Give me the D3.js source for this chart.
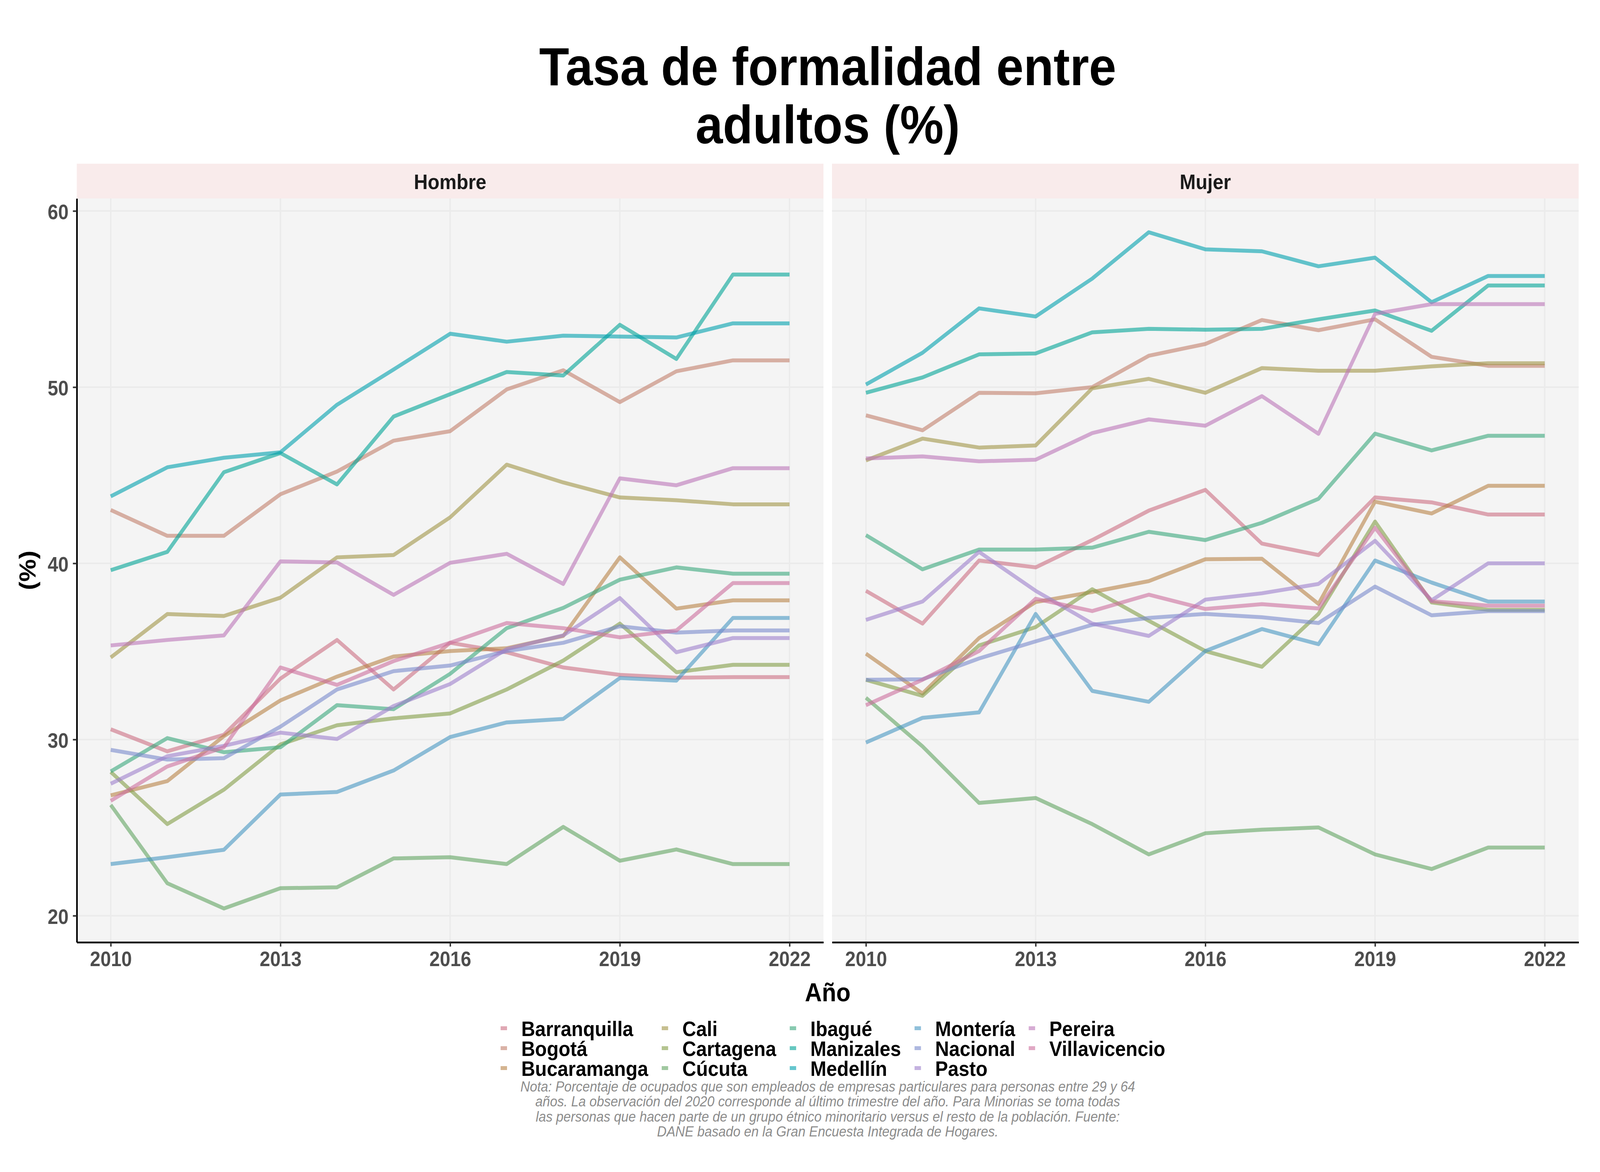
<!DOCTYPE html>
<html>
<head>
<meta charset="utf-8">
<script src="https://cdn.jsdelivr.net/npm/d3@7"></script>
<style>
  html, body { margin: 0; padding: 0; background: #fff; overflow: hidden; }
  .Graph svg { display: block; width: 100vw; height: 100vh; }
  text { font-family: "Liberation Sans", Arial, Helvetica, sans-serif; }
</style>
</head>
<body>
<div class="Graph"></div>
<script>
var years = [2010, 2011, 2012, 2013, 2014, 2015, 2016, 2017, 2018, 2019, 2020, 2021, 2022];
var yearTicks = [2010, 2013, 2016, 2019, 2022];
var valueTicks = [20, 30, 40, 50, 60];
var panels = ["Hombre", "Mujer"];

var cities = ["Barranquilla", "Bogotá", "Bucaramanga", "Cali", "Cartagena", "Cúcuta", "Ibagué",
    "Manizales", "Medellín", "Montería", "Nacional", "Pasto", "Pereira", "Villavicencio"];

var colors = ["#cb6e82", "#c17f6b", "#b78246", "#a09446", "#829d46", "#61a361", "#39a77b",
    "#00a396", "#00a0ad", "#4696c1", "#7889cb", "#9d7fcb", "#bb75b7", "#cb6e9d"];

// one row per city, same order as cities
var hombre = [
    [30.58, 29.33, 30.27, 33.46, 35.65, 32.84, 35.49, 34.95, 34.09, 33.67, 33.51, 33.54, 33.54], // Barranquilla
    [43.03, 41.56, 41.56, 43.92, 45.21, 46.96, 47.50, 49.87, 50.96, 49.15, 50.90, 51.52, 51.52], // Bogotá
    [26.83, 27.64, 30.19, 32.22, 33.57, 34.71, 35.02, 35.18, 35.88, 40.34, 37.43, 37.90, 37.90], // Bucaramanga
    [34.66, 37.12, 37.01, 38.05, 40.34, 40.47, 42.61, 45.60, 44.59, 43.74, 43.58, 43.35, 43.35], // Cali
    [28.16, 25.20, 27.15, 29.72, 30.81, 31.20, 31.48, 32.84, 34.48, 36.58, 33.82, 34.24, 34.24], // Cartagena
    [26.29, 21.84, 20.41, 21.56, 21.61, 23.25, 23.32, 22.93, 25.04, 23.12, 23.76, 22.93, 22.93], // Cúcuta
    [28.19, 30.08, 29.28, 29.56, 31.95, 31.72, 33.73, 36.32, 37.47, 39.07, 39.77, 39.41, 39.41], // Ibagué
    [39.61, 40.65, 45.17, 46.26, 44.48, 48.33, 49.60, 50.86, 50.66, 53.54, 51.60, 56.39, 56.39], // Manizales
    [43.80, 45.45, 45.99, 46.30, 49.00, 51.00, 53.03, 52.58, 52.92, 52.87, 52.82, 53.62, 53.62], // Medellín
    [22.93, 23.32, 23.74, 26.88, 27.02, 28.24, 30.14, 30.97, 31.17, 33.49, 33.34, 36.90, 36.90], // Montería
    [29.41, 28.86, 28.94, 30.73, 32.84, 33.88, 34.20, 35.02, 35.49, 36.43, 36.07, 36.19, 36.19], // Nacional
    [27.49, 29.05, 29.64, 30.39, 30.03, 31.90, 33.15, 35.13, 35.91, 38.03, 34.95, 35.76, 35.76], // Pasto
    [35.34, 35.65, 35.91, 40.11, 40.05, 38.21, 40.03, 40.54, 38.83, 44.82, 44.43, 45.40, 45.40], // Pereira
    [26.52, 28.47, 29.56, 34.09, 33.10, 34.45, 35.49, 36.61, 36.32, 35.80, 36.19, 38.88, 38.88]  // Villavicencio
];

var mujer = [
    [38.44, 36.58, 40.16, 39.77, 41.32, 42.99, 44.17, 41.12, 40.47, 43.74, 43.46, 42.77, 42.77], // Barranquilla
    [48.40, 47.55, 49.68, 49.65, 50.00, 51.78, 52.45, 53.81, 53.23, 53.85, 51.72, 51.21, 51.21], // Bogotá
    [34.87, 32.61, 35.76, 37.80, 38.37, 38.99, 40.23, 40.26, 37.70, 43.50, 42.83, 44.40, 44.40], // Bucaramanga
    [45.84, 47.08, 46.57, 46.69, 49.93, 50.47, 49.68, 51.08, 50.93, 50.93, 51.18, 51.36, 51.36], // Cali
    [33.39, 32.48, 35.34, 36.38, 38.53, 36.74, 35.02, 34.13, 37.13, 42.37, 37.78, 37.36, 37.36], // Cartagena
    [32.37, 29.61, 26.40, 26.68, 25.20, 23.48, 24.68, 24.88, 25.01, 23.48, 22.65, 23.87, 23.87], // Cúcuta
    [41.60, 39.66, 40.78, 40.78, 40.89, 41.79, 41.32, 42.30, 43.66, 47.36, 46.41, 47.24, 47.24], // Ibagué
    [49.68, 50.55, 51.86, 51.91, 53.11, 53.31, 53.26, 53.31, 53.85, 54.35, 53.20, 55.77, 55.77], // Manizales
    [50.15, 51.95, 54.47, 54.01, 56.16, 58.79, 57.82, 57.71, 56.86, 57.35, 54.82, 56.31, 56.31], // Medellín
    [29.83, 31.23, 31.54, 37.13, 32.76, 32.14, 35.02, 36.27, 35.41, 40.16, 38.91, 37.83, 37.83], // Montería
    [33.39, 33.42, 34.60, 35.57, 36.51, 36.90, 37.13, 36.94, 36.61, 38.68, 37.05, 37.29, 37.29], // Nacional
    [36.79, 37.83, 40.65, 38.44, 36.58, 35.88, 37.94, 38.30, 38.83, 41.28, 37.90, 40.00, 40.00], // Pasto
    [45.95, 46.07, 45.79, 45.88, 47.39, 48.17, 47.81, 49.49, 47.35, 54.16, 54.71, 54.71, 54.71], // Pereira
    [31.95, 33.39, 35.02, 37.99, 37.29, 38.22, 37.41, 37.68, 37.44, 42.02, 37.85, 37.60, 37.60]  // Villavicencio
];

var titleLines = ["Tasa de formalidad entre", "adultos (%)"];
var captionLines = [
    "Nota: Porcentaje de ocupados que son empleados de empresas particulares para personas entre 29 y 64",
    "años. La observación del 2020 corresponde al último trimestre del año. Para Minorias se toma todas",
    "las personas que hacen parte de un grupo étnico minoritario versus el resto de la población. Fuente:",
    "DANE basado en la Gran Encuesta Integrada de Hogares."
];

var W = 4500, H = 3000;
var panelLeft = [216, 2340],
    panelW = 2100,
    panelTop = 508,
    panelBottom = 2412,
    stripTop = 419;
var plotCenter = (panelLeft[0] + panelLeft[1] + panelW) / 2;

// the 4500x3000 layout is stretched onto whatever window the page gets
var svg = d3.select(".Graph")
    .append("svg")
    .attr("viewBox", [0, 0, W, H])
    .attr("preserveAspectRatio", "none");

svg.append("rect").attr("width", W).attr("height", H).attr("fill", "#fff");

// y scale shared (ggplot 5% expansion)
var allVals = d3.merge(hombre.concat(mujer));
var ext = d3.extent(allVals);
var pad = (ext[1] - ext[0]) * 0.05;
var y = d3.scaleLinear()
    .domain([ext[0] - pad, ext[1] + pad])
    .range([panelBottom, panelTop]);

var line;

panels.forEach(function (p, pi) {
    var data = pi == 0 ? hombre : mujer;
    var x0 = panelLeft[pi];
    var x = d3.scaleLinear()
        .domain([2010 - 0.6, 2022 + 0.6])
        .range([x0, x0 + panelW]);

    // strip
    svg.append("rect")
        .attr("x", x0).attr("y", stripTop)
        .attr("width", panelW).attr("height", panelTop - stripTop)
        .attr("fill", "#f9ebeb");
    svg.append("text")
        .attr("x", x0 + panelW / 2).attr("y", 484)
        .attr("text-anchor", "middle")
        .attr("font-size", 54).attr("font-weight", "bold")
        .attr("fill", "#1a1a1a")
        .text(p);

    // panel background + grid
    svg.append("rect")
        .attr("x", x0).attr("y", panelTop)
        .attr("width", panelW).attr("height", panelBottom - panelTop)
        .attr("fill", "#f4f4f4");
    var grid = svg.append("g");
    grid.selectAll(".gy").data(valueTicks).enter().append("line")
        .attr("x1", x0).attr("x2", x0 + panelW)
        .attr("y1", d => y(d)).attr("y2", d => y(d))
        .attr("stroke", "#ebebeb").attr("stroke-width", 4);
    grid.selectAll(".gx").data(yearTicks).enter().append("line")
        .attr("x1", d => x(d)).attr("x2", d => x(d))
        .attr("y1", panelTop).attr("y2", panelBottom)
        .attr("stroke", "#ebebeb").attr("stroke-width", 4);

    // lines
    line = d3.line()
        .x((d, i) => x(years[i]))
        .y(d => y(d));
    svg.append("g").selectAll("path")
        .data(data)
        .enter()
        .append("path")
        .attr("d", d => line(d))
        .attr("fill", "none")
        .attr("stroke", (d, i) => colors[i])
        .attr("stroke-opacity", 0.6)
        .attr("stroke-width", 10)
        .attr("stroke-linejoin", "round");

    // x axis
    var gx = svg.append("g")
        .attr("transform", "translate(0," + panelBottom + ")")
        .call(d3.axisBottom(x).tickValues(yearTicks).tickFormat(d3.format("d"))
            .tickSize(11).tickSizeOuter(0).tickPadding(12));
    gx.select(".domain").attr("stroke", "#000").attr("stroke-width", 4.5);
    gx.selectAll(".tick line").attr("stroke", "#333").attr("stroke-width", 4);
    gx.selectAll(".tick text")
        .attr("font-size", 53).attr("font-weight", "bold")
        .attr("fill", "#4d4d4d")
        .attr("font-family", "'Liberation Sans', Arial, sans-serif");

    if (pi == 0) {
        var gy = svg.append("g")
            .attr("transform", "translate(" + x0 + ",0)")
            .call(d3.axisLeft(y).tickValues(valueTicks)
                .tickSize(11).tickSizeOuter(0).tickPadding(12));
        gy.select(".domain").attr("stroke", "#000").attr("stroke-width", 4.5);
        gy.selectAll(".tick line").attr("stroke", "#333").attr("stroke-width", 4);
        gy.selectAll(".tick text")
            .attr("font-size", 53).attr("font-weight", "bold")
            .attr("fill", "#4d4d4d")
            .attr("dy", "0.38em")
            .attr("font-family", "'Liberation Sans', Arial, sans-serif");
    }
});

// title
svg.append("g").selectAll("text")
    .data(titleLines)
    .enter()
    .append("text")
    .attr("x", plotCenter)
    .attr("y", (d, i) => 218 + i * 149)
    .attr("text-anchor", "middle")
    .attr("font-size", 138).attr("font-weight", "bold")
    .attr("fill", "#000")
    .text(d => d);

// axis titles
svg.append("text")
    .attr("x", plotCenter).attr("y", 2563)
    .attr("text-anchor", "middle")
    .attr("font-size", 66).attr("font-weight", "bold")
    .text("Año");
svg.append("text")
    .attr("transform", "translate(100," + (panelTop + panelBottom) / 2 + ") rotate(-90)")
    .attr("text-anchor", "middle")
    .attr("font-size", 65).attr("font-weight", "bold")
    .text("(%)");

// legend: 3 rows, filled by column
var legend = svg.append("g");
var nRows = 3;
var colX = 1408;
for (var c = 0; c * nRows < cities.length; c++) {
    var maxW = 0;
    for (var r = 0; r < nRows; r++) {
        var k = c * nRows + r;
        if (k >= cities.length) break;
        legend.append("line")
            .attr("x1", colX).attr("x2", colX + 18)
            .attr("y1", 2632 + r * 51).attr("y2", 2632 + r * 51)
            .attr("stroke", colors[k]).attr("stroke-opacity", 0.6)
            .attr("stroke-width", 10);
        var t = legend.append("text")
            .attr("x", colX + 58).attr("y", 2652 + r * 51)
            .attr("font-size", 54).attr("font-weight", "bold")
            .attr("fill", "#000")
            .text(cities[k]);
        maxW = Math.max(maxW, t.node().getComputedTextLength());
    }
    colX = colX + 58 + maxW + 38;
}

// caption
svg.append("g").selectAll("text")
    .data(captionLines)
    .enter()
    .append("text")
    .attr("x", plotCenter)
    .attr("y", (d, i) => 2794 + i * 38.3)
    .attr("text-anchor", "middle")
    .attr("font-size", 37).attr("font-style", "italic")
    .attr("fill", "#8c8c8c")
    .text(d => d);
</script>
</body>
</html>
